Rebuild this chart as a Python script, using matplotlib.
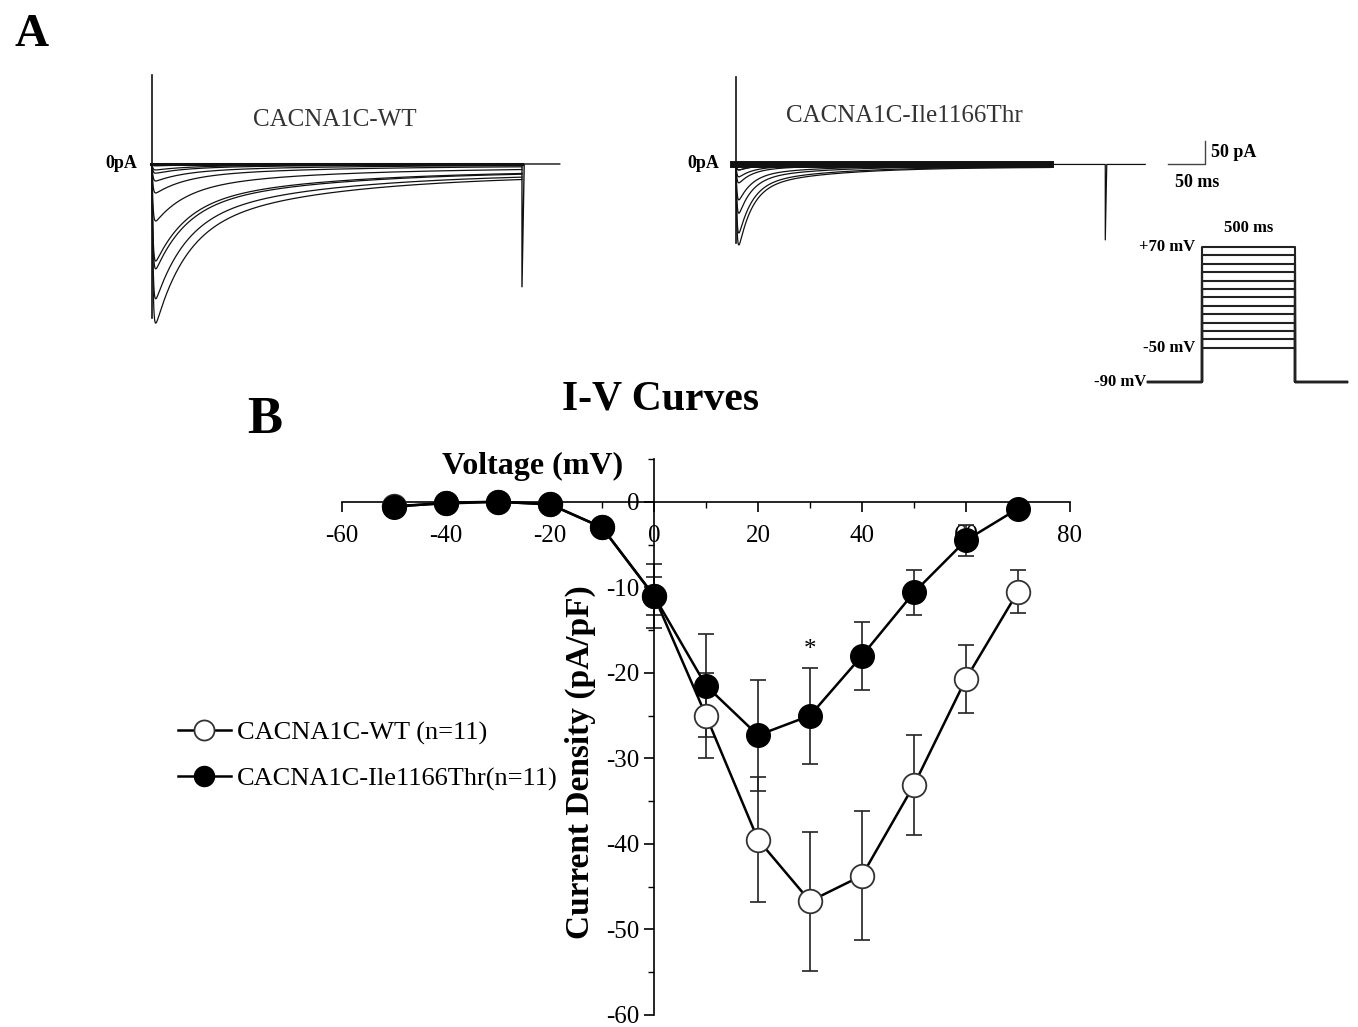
import numpy as np
import matplotlib
matplotlib.use("Agg")
import matplotlib.pyplot as plt

plt.rcParams['font.family'] = ['Liberation Serif', 'DejaVu Serif']
plt.rcParams['axes.unicode_minus'] = False

# ---- I-V data (pA/pF) ----
volt = [-50, -40, -30, -20, -10, 0, 10, 20, 30, 40, 50, 60, 70]
wt_mean = [-0.5, -0.2, 0.0, -0.3, -3.0, -11.0, -25.0, -39.5, -46.7, -43.7, -33.1, -20.7, -10.5]
wt_sem = [0.3, 0.3, 0.3, 0.3, 1.0, 3.7, 5.0, 7.3, 8.1, 7.5, 5.8, 4.0, 2.5]
mut_mean = [-0.6, -0.1, 0.0, -0.3, -3.0, -11.0, -21.5, -27.3, -25.0, -18.0, -10.6, -4.5, -0.8]
mut_sem = [0.3, 0.3, 0.3, 0.3, 1.0, 2.2, 6.0, 6.5, 5.6, 4.0, 2.6, 1.8, 0.5]
star_v, star_y = 30, -17.3

# ---- raw current trace parameters ----
wt_peak = [0, 0, 2, 4, 13, 37, 124, 228, 346, 293, 211, 63, 20]     # pA
mut_peak = [0, 0, 0, 3, 13, 41, 107, 176, 150, 78, 28, 13, 4]      # pA
wt_tau = (40, 200, 0.6, 0.06)    # fast tau, slow tau, fast fraction, sustained
mut_tau = (18, 110, 0.75, 0.03)
pulse_ms = 500
wt_cap, wt_tail = 193, -267
mut_cap, mut_tail = 189, -165
step_mv = list(range(-50, 80, 10))
hold_mv = -90

W, H = 1358, 1027
fig = plt.figure(figsize=(W / 100, H / 100), dpi=100)


def px_axes(x0, y0, x1, y1):
    ax = fig.add_axes([x0 / W, 1 - y1 / H, (x1 - x0) / W, (y1 - y0) / H])
    ax.set_axis_off()
    return ax


def trace(t, peak, tau):
    tf, ts, f, s = tau
    act = 1 - np.exp(-t / 1.3)
    shape = act * (f * np.exp(-t / tf) + (1 - f - s) * np.exp(-t / ts) + s)
    return -peak * shape / shape.max()


col = '#111111'

# ---- WT traces ----
ax1 = px_axes(140, 62, 580, 342)
ax1.set_xlim(-16.2, 578.4)
ax1.set_ylim(-387, 221.7)
t = np.linspace(0, pulse_ms, 2500)
for p in wt_peak:
    ax1.plot(t, trace(t, p, wt_tau), color=col, lw=0.9)
ax1.plot([0, 0], [wt_cap, -max(wt_peak) * 0.97], color=col, lw=1.2)
ax1.plot([-2, pulse_ms], [0, 0], color=col, lw=2.2)
ax1.plot([pulse_ms, pulse_ms, pulse_ms + 3, 551], [0, wt_tail, 0, 0], color=col, lw=1.0)
ax1.text(247, 96, 'CACNA1C-WT', ha='center', va='center', fontsize=18, color='#333333')
ax1.text(-20, 0, '0pA', ha='right', va='center', fontsize=13, fontweight='bold')

# ---- mutant traces ----
ax2 = px_axes(700, 62, 1290, 342)
ax2.set_xlim(-48.6, 748.6)
ax2.set_ylim(-387, 221.7)
t2 = np.linspace(0, 424, 2500)
for p in mut_peak:
    ax2.plot(t2, trace(t2, p, mut_tau), color=col, lw=0.9)
ax2.plot([0, 0], [mut_cap, -max(mut_peak) * 0.97], color=col, lw=1.2)
ax2.plot([-4, 424], [0, 0], color=col, lw=5)
ax2.plot([424, 499, 499, 501, 553], [-1, -1, mut_tail, -1, -1], color=col, lw=0.9)
ax2.text(228, 104, 'CACNA1C-Ile1166Thr', ha='center', va='center', fontsize=18, color='#333333')
ax2.text(-23, 0, '0pA', ha='right', va='center', fontsize=13, fontweight='bold')
# scale bar: 50 ms / 50 pA
ax2.plot([584, 634, 634], [0, 0, 50], color='#444444', lw=1.0)
ax2.text(642, 25, '50 pA', ha='left', va='center', fontsize=13, fontweight='bold')
ax2.text(623, -40, '50 ms', ha='center', va='center', fontsize=13, fontweight='bold')

# ---- voltage protocol ----
ax3 = px_axes(1080, 200, 1358, 400)
ax3.set_xlim(-656, 839)
ax3.set_ylim(-112, 126)
for v in step_mv:
    ax3.plot([-290, 0, 0, pulse_ms, pulse_ms, 780], [hold_mv, hold_mv, v, v, hold_mv, hold_mv],
             color='#222222', lw=1.5)
ax3.text(-35, 70, '+70 mV', ha='right', va='center', fontsize=12, fontweight='bold')
ax3.text(-35, -50, '-50 mV', ha='right', va='center', fontsize=12, fontweight='bold')
ax3.text(-300, -90, '-90 mV', ha='right', va='center', fontsize=12, fontweight='bold')
ax3.text(250, 93, '500 ms', ha='center', va='center', fontsize=12, fontweight='bold')

# ---- I-V curves ----
ax = fig.add_axes([342 / W, 1 - 1015 / H, (1070 - 342) / W, (1015 - 459) / H])
ax.set_xlim(-60, 80)
ax.set_ylim(-60, 5)
ax.spines['left'].set_position(('data', 0))
ax.spines['bottom'].set_position(('data', 0))
ax.spines['top'].set_visible(False)
ax.spines['right'].set_visible(False)
for s in ('left', 'bottom'):
    ax.spines[s].set_linewidth(1.2)
ax.set_xticks(np.arange(-60, 81, 20))
ax.set_xticks(np.arange(-60, 81, 10), minor=True)
ax.set_yticks(np.arange(-60, 1, 10))
ax.set_yticks(np.arange(-60, 6, 5), minor=True)
ax.tick_params(which='major', length=7, width=1.2, labelsize=18, direction='out')
ax.tick_params(which='minor', length=4, width=1.0, direction='out')
ax.tick_params(axis='x', pad=10)

ax.errorbar(volt, wt_mean, yerr=wt_sem, fmt='none', ecolor='#222222', elinewidth=1.2, capsize=6, capthick=1.2, zorder=2)
ax.errorbar(volt, mut_mean, yerr=mut_sem, fmt='none', ecolor='#222222', elinewidth=1.2, capsize=6, capthick=1.2, zorder=2)
l_wt, = ax.plot(volt, wt_mean, color='black', lw=1.8, marker='o', markersize=17,
                markerfacecolor='white', markeredgecolor='#333333', markeredgewidth=1.3, zorder=3,
                label='CACNA1C-WT (n=11)')
l_mut, = ax.plot(volt, mut_mean, color='black', lw=1.8, marker='o', markersize=17,
                 markerfacecolor='black', markeredgecolor='black', zorder=4,
                 label='CACNA1C-Ile1166Thr(n=11)')
ax.text(star_v, star_y, '*', ha='center', va='center', fontsize=18)

ax.set_ylabel('Current Density (pA/pF)', fontsize=24, fontweight='bold')
ax.yaxis.set_label_coords((596 - 342) / 728, (1015 - 762) / 556)
fig.text(533 / W, 1 - 466 / H, 'Voltage (mV)', ha='center', va='center', fontsize=23, fontweight='bold')
fig.text(660 / W, 1 - 400 / H, 'I-V Curves', ha='center', va='center', fontsize=30, fontweight='bold')
fig.text(32 / W, 1 - 35 / H, 'A', ha='center', va='center', fontsize=34, fontweight='bold')
fig.text(265 / W, 1 - 420 / H, 'B', ha='center', va='center', fontsize=38, fontweight='bold')

fig.legend(handles=[l_wt, l_mut], loc='center left', bbox_to_anchor=(154 / W, 1 - 756 / H),
           frameon=False, fontsize=19, handlelength=2.0, handletextpad=0.25, labelspacing=0.85,
           markerscale=0.85)

fig.savefig('out.png', dpi=100)
